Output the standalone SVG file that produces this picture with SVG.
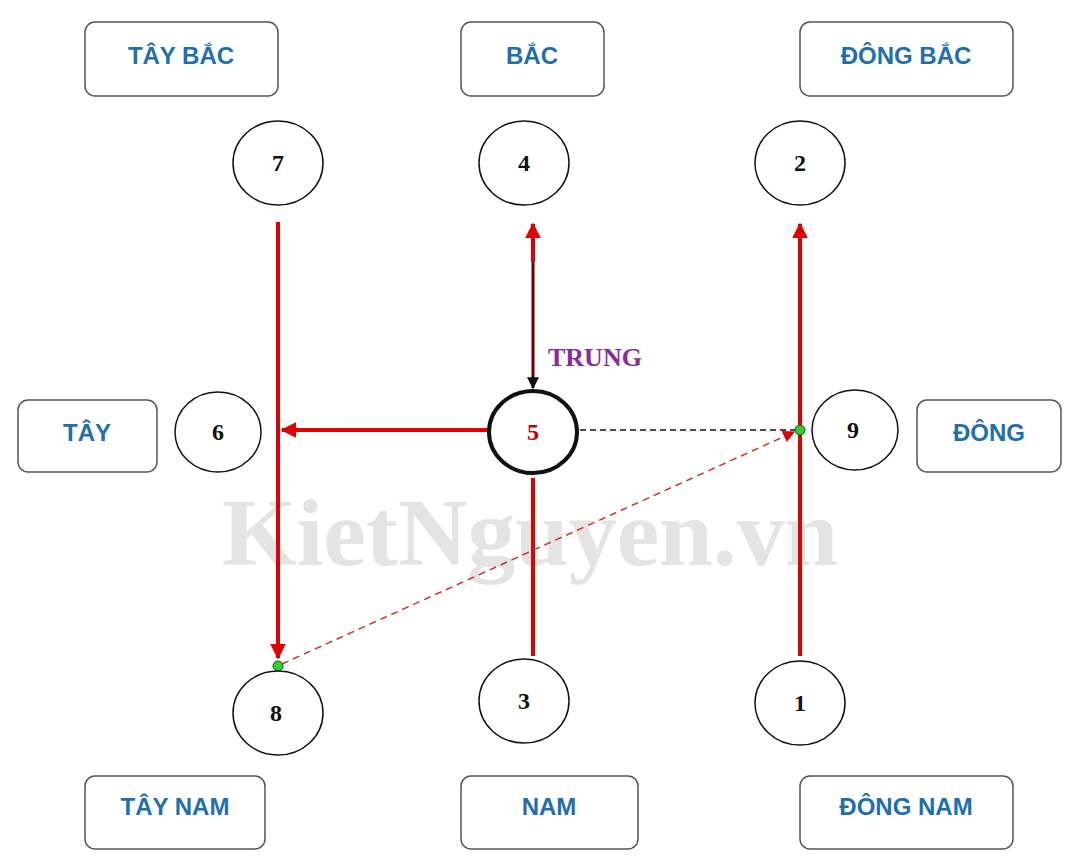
<svg xmlns="http://www.w3.org/2000/svg" width="1080" height="866" viewBox="0 0 1080 866">
<style>
.box{fill:#fff;stroke:#555;stroke-width:1.5}
.bt{font-family:"Liberation Sans",Arial,sans-serif;font-weight:bold;font-size:24px;fill:#1f6fb0;text-anchor:middle}
.c{fill:#fff;stroke:#111;stroke-width:1.5}
.n{font-family:"Liberation Serif","Times New Roman",serif;font-weight:bold;font-size:24px;fill:#111;text-anchor:middle}
.r{stroke:#e00000;stroke-width:4;fill:none}
</style>
<defs>
<marker id="ar" viewBox="0 0 10 10" refX="9" refY="5" markerWidth="4" markerHeight="4" orient="auto-start-reverse"><path d="M0,0L10,5L0,10z" fill="#e00000"/></marker>
<marker id="ab" viewBox="0 0 10 10" refX="9" refY="5" markerWidth="4" markerHeight="4" orient="auto"><path d="M0,0L10,5L0,10z" fill="#111"/></marker>
<marker id="ad" viewBox="0 0 10 10" refX="9" refY="5" markerWidth="8" markerHeight="8" orient="auto"><path d="M0,0L10,5L0,10z" fill="#e00000"/></marker>
</defs>
<rect width="1080" height="866" fill="#fff"/>
<text x="530" y="565" font-family="Liberation Serif,serif" font-weight="bold" font-size="96" fill="#e4e4e4" text-anchor="middle">KietNguyen.vn</text>
<g id="connectors">
<line class="r" x1="278" y1="222" x2="278" y2="658" marker-end="url(#ar)"/>
<line class="r" x1="488" y1="430" x2="282" y2="430" marker-end="url(#ar)"/>
<line x1="533" y1="258" x2="533" y2="388" stroke="#6a0000" stroke-width="3" marker-end="url(#ab)"/>
<line class="r" x1="533" y1="262" x2="533" y2="224" marker-end="url(#ar)"/>
<line class="r" x1="533" y1="478" x2="533" y2="656"/>
<line class="r" x1="800" y1="656" x2="800" y2="224" marker-end="url(#ar)"/>
<line x1="580" y1="430" x2="796" y2="430" stroke="#111" stroke-width="1.5" stroke-dasharray="6,4"/>
<line x1="282" y1="664" x2="794" y2="432" stroke="#d03030" stroke-width="1.5" stroke-dasharray="7,5" marker-end="url(#ad)"/>
<circle cx="800" cy="430" r="5" fill="#3c3" stroke="#060" stroke-width="1"/>
<circle cx="278" cy="666" r="5" fill="#3c3" stroke="#060" stroke-width="1"/>
</g>
<g id="b-taybac"><rect class="box" x="85" y="22" width="193" height="74" rx="10"/><text class="bt" x="181" y="64">TÂY BẮC</text></g>
<g id="b-bac"><rect class="box" x="461" y="22" width="143" height="74" rx="10"/><text class="bt" x="532" y="64">BẮC</text></g>
<g id="b-dongbac"><rect class="box" x="800" y="22" width="213" height="74" rx="10"/><text class="bt" x="906" y="64">ĐÔNG BẮC</text></g>
<g id="b-tay"><rect class="box" x="18" y="400" width="139" height="72" rx="10"/><text class="bt" x="87" y="441">TÂY</text></g>
<g id="b-dong"><rect class="box" x="917" y="400" width="144" height="72" rx="10"/><text class="bt" x="989" y="441">ĐÔNG</text></g>
<g id="b-taynam"><rect class="box" x="85" y="776" width="180" height="73" rx="10"/><text class="bt" x="175" y="815">TÂY NAM</text></g>
<g id="b-nam"><rect class="box" x="461" y="776" width="177" height="73" rx="10"/><text class="bt" x="549" y="815">NAM</text></g>
<g id="b-dongnam"><rect class="box" x="800" y="776" width="213" height="73" rx="10"/><text class="bt" x="906" y="815">ĐÔNG NAM</text></g>
<g id="n7"><ellipse class="c" cx="278" cy="163" rx="45" ry="42"/><text class="n" x="278" y="171">7</text></g>
<g id="n4"><ellipse class="c" cx="524" cy="163" rx="45" ry="42"/><text class="n" x="524" y="171">4</text></g>
<g id="n2"><ellipse class="c" cx="800" cy="163" rx="45" ry="42"/><text class="n" x="800" y="171">2</text></g>
<g id="n6"><ellipse class="c" cx="218" cy="432" rx="43" ry="40"/><text class="n" x="218" y="440">6</text></g>
<g id="n5"><ellipse cx="533" cy="432" rx="44" ry="41" fill="#fff" stroke="#111" stroke-width="4"/><text class="n" x="533" y="440" style="fill:#c00000">5</text></g>
<g id="n9"><ellipse class="c" cx="855" cy="430" rx="43" ry="40"/><text class="n" x="853" y="438">9</text></g>
<g id="n8"><ellipse class="c" cx="278" cy="713" rx="45" ry="42"/><text class="n" x="276" y="721">8</text></g>
<g id="n3"><ellipse class="c" cx="524" cy="701" rx="45" ry="42"/><text class="n" x="524" y="709">3</text></g>
<g id="n1"><ellipse class="c" cx="800" cy="703" rx="45" ry="42"/><text class="n" x="800" y="711">1</text></g>
<text x="548" y="366" font-family="Liberation Serif,serif" font-weight="bold" font-size="26" fill="#8b2a9a">TRUNG</text>
</svg>
